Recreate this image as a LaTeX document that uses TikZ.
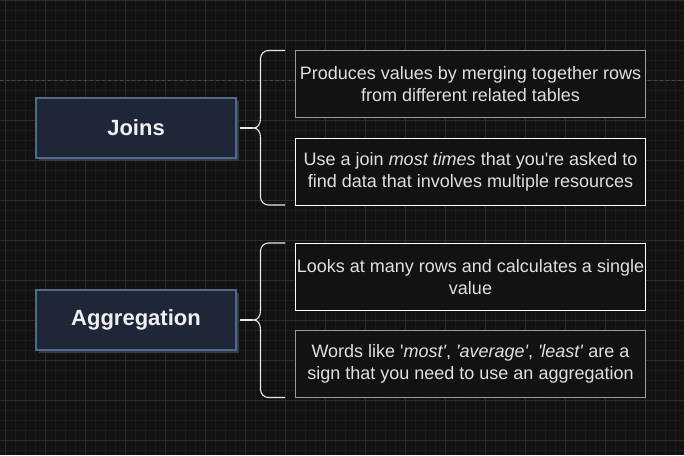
\documentclass[tikz,border=0pt]{standalone}
\usepackage{fontspec}
\setmainfont{Liberation Sans}[Ligatures=TeXOff]
\definecolor{bg}{HTML}{121212}
\definecolor{gminor}{HTML}{1C1C1C}
\definecolor{gmajor}{HTML}{2C2C2C}
\definecolor{pbreak}{HTML}{4A4A4A}
\definecolor{topicfill}{HTML}{1E2638}
\definecolor{topicdraw}{HTML}{4F6A8F}
\definecolor{topictext}{HTML}{F0F0F0}
\definecolor{shadowc}{HTML}{3A3A3A}
\definecolor{notetext}{HTML}{E0E0E0}
\definecolor{notegray}{HTML}{9A9A9A}
\definecolor{linec}{HTML}{E8E8E8}
\begin{document}
\begin{tikzpicture}[x=1pt,y=-1pt,
  topic/.style={draw=topicdraw,fill=topicfill,line width=1.2pt,minimum width=200pt,minimum height=60pt,inner sep=0pt,text=topictext,font=\fontsize{22}{26}\selectfont\bfseries},
  shadowbox/.style={fill=shadowc,draw=none,minimum width=200pt,minimum height=60pt,inner sep=0pt},
  note/.style={fill=bg,minimum width=350pt,minimum height=67pt,inner sep=0pt,align=center,text=notetext,font=\fontsize{18}{22}\selectfont},
  notew/.style={note,draw=white,line width=1pt},
  noteg/.style={note,draw=notegray,line width=1.6pt},
  brace/.style={draw=linec,line width=1.1pt,rounded corners=8pt},
  link/.style={draw=linec,line width=1.1pt}]
\useasboundingbox (0,0) rectangle (684,455);
\fill[bg] (0,0) rectangle (684,455);
% minor grid
\foreach \x in {5,15,...,684} \draw[gminor,line width=0.6pt] (\x,0) -- (\x,455);
\foreach \y in {10,20,...,455} \draw[gminor,line width=0.6pt] (0,\y) -- (684,\y);
% major grid
\foreach \x in {5,45,...,684} \draw[gmajor,line width=0.9pt] (\x,0) -- (\x,455);
\foreach \y in {0,40,...,455} \draw[gmajor,line width=0.9pt] (0,\y) -- (684,\y);
% page break line
\draw[pbreak,dash pattern=on 3pt off 3pt,line width=0.9pt] (0,80) -- (684,80);

% Joins
\node[shadowbox] at (139,131) {};
\node[topic] (joins) at (136,128) {Joins};
\node[noteg] (j1) at (470.5,84) {Produces values by merging together rows\\from different related tables};
\node[notew] (j2) at (470.5,171.5) {Use a join \textit{most times} that you're asked to\\find data that involves multiple resources};
\coordinate (jb) at (253,128);
\draw[brace] (285,50.5) -- (260.5,50.5) -- (260.5,118);
\draw[brace] (285,205) -- (260.5,205) -- (260.5,138);
\draw[link] (260.5,117) .. controls (260.5,125) and (258,128) .. (jb) .. controls (258,128) and (260.5,131) .. (260.5,139);
\draw[link] (joins.east) ++(3,0) -- (jb);

% Aggregation
\node[shadowbox] at (139,323) {};
\node[topic] (agg) at (136,320) {Aggregation};
\node[notew] (a1) at (470.5,277) {Looks at many rows and calculates a single\\value};
\node[noteg] (a2) at (470.5,364) {Words like '\textit{most'}, \textit{'average'}, \textit{'least'} are a\\sign that you need to use an aggregation};
\coordinate (ab) at (253,320);
\draw[brace] (285,243) -- (260.5,243) -- (260.5,310);
\draw[brace] (285,397.5) -- (260.5,397.5) -- (260.5,330);
\draw[link] (260.5,309) .. controls (260.5,317) and (258,320) .. (ab) .. controls (258,320) and (260.5,323) .. (260.5,331);
\draw[link] (agg.east) ++(3,0) -- (ab);
\end{tikzpicture}
\end{document}
